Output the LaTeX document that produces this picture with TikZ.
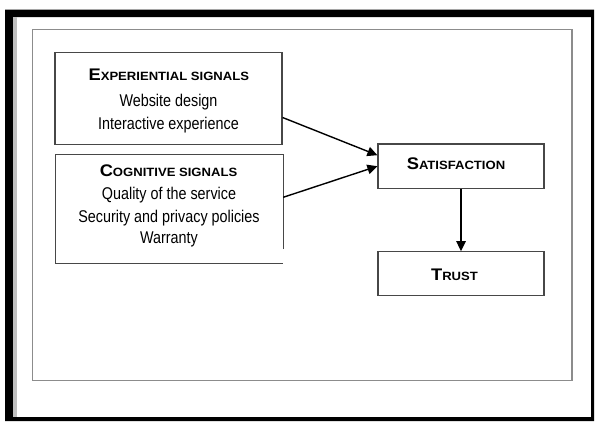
\documentclass[tikz,border=0pt]{standalone}
\usepackage{fontspec}
\setmainfont{Liberation Sans}
\newfontfamily\bodyf[FakeStretch=0.845]{Liberation Sans}
\newfontfamily\headf[FakeStretch=1.09]{Liberation Sans}
\usetikzlibrary{arrows.meta}
\newcommand\schead[2]{{\headf\bfseries\fontsize{16.8}{16.8}\selectfont #1\fontsize{12}{12}\selectfont #2}}
\tikzset{
  boxnode/.style={draw=black!72, line width=1.2pt, rectangle, inner sep=0pt},
  txt/.style={anchor=base, inner sep=0pt, font=\bodyf\fontsize{17}{17}\selectfont},
  htxt/.style={anchor=base, inner sep=0pt},
  arr/.style={line width=1.4pt, -{Triangle[length=10pt,width=9.5pt]}},
}
\begin{document}
\begin{tikzpicture}[x=1pt,y=-1pt]
\useasboundingbox (0,0) rectangle (596,421);
\fill[white] (0,0) rectangle (596,421);
% black frame
\fill[black, even odd rule] (5,9.5) rectangle (594,421) (13,17) rectangle (591,417);
\fill[black!25] (13,17) rectangle (16.5,417);
% outer gray rectangle
\draw[black!45, line width=1.6pt] (32.5,29.5) rectangle (572,380.5);
% boxes
\node[boxnode, minimum width=227pt, minimum height=91.6pt] (exp) at (168.5,98.5) {};
\node[rectangle, inner sep=0pt, minimum width=227pt, minimum height=108pt] (cog) at (169.5,209) {};
\draw[draw=black!72, line width=1.2pt] ([yshift=14pt]cog.south east) -- (cog.north east) -- (cog.north west) -- (cog.south west) -- (cog.south east);
\node[boxnode, minimum width=166pt, minimum height=44.3pt] (sat) at (461,166.2) {};
\node[boxnode, minimum width=166pt, minimum height=44pt] (trust) at (461,273.7) {};
% texts
\node[htxt] (h1) at (168.8,80) {\schead{E}{XPERIENTIAL SIGNALS}};
\node[txt] (t11) at (168.5,106.7) {Website design};
\node[txt] (t12) at (168.5,129.3) {Interactive experience};
\node[htxt] (h2) at (168.5,176.7) {\schead{C}{OGNITIVE SIGNALS}};
\node[txt] (t21) at (169,199.2) {Quality of the service};
\node[txt] (t22) at (169,222.2) {Security and privacy policies};
\node[txt] (t23) at (169,243.5) {Warranty};
\node[htxt] (h3) at (456,169.5) {\schead{S}{ATISFACTION}};
\node[htxt] (h4) at (454.5,280) {\schead{T}{RUST}};
% arrows
\draw[arr] ([yshift=-19pt]exp.east) -- ([yshift=11pt]sat.west);
\draw[arr] ([yshift=11.7pt]cog.east) -- ([yshift=0pt]sat.west);
\draw[arr] (sat.south) -- (trust.north);
\end{tikzpicture}
\end{document}
